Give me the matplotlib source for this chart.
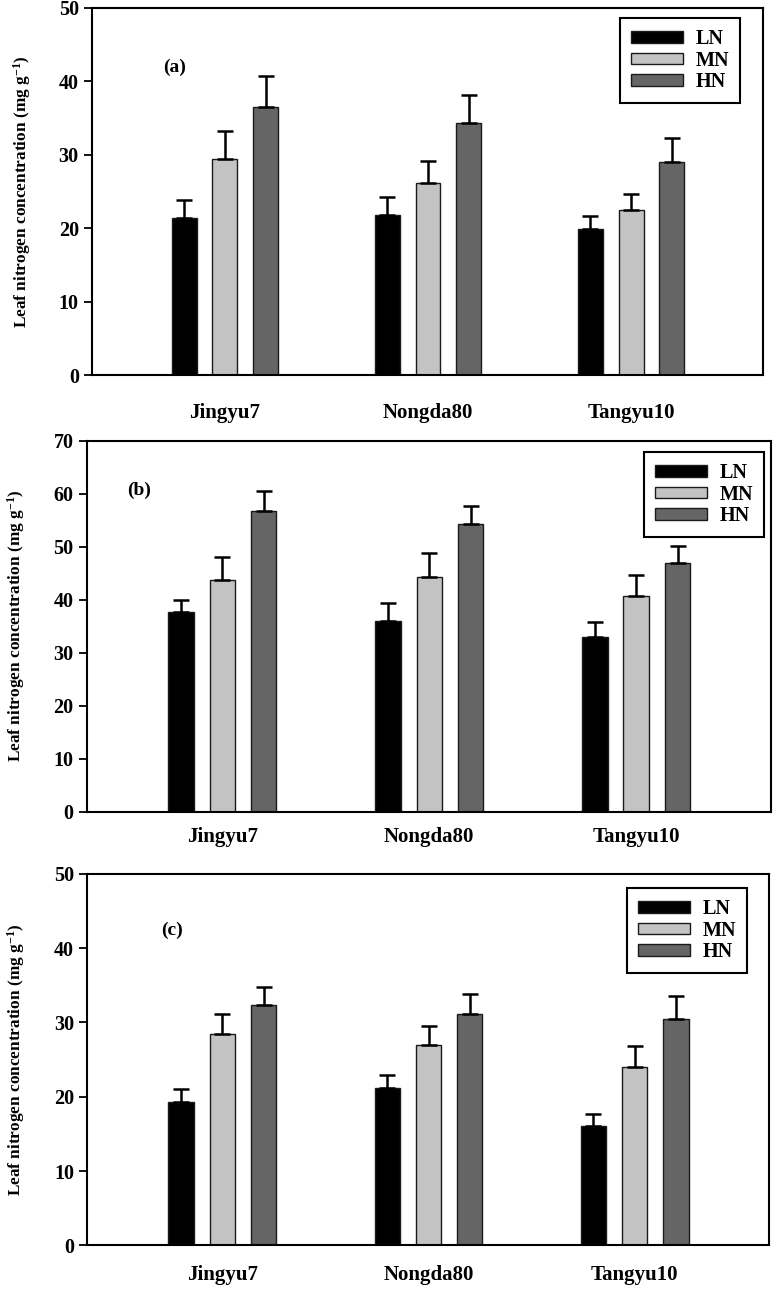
import numpy as np
import matplotlib
matplotlib.use("Agg")
import matplotlib.pyplot as plt

# Cultivars and nitrogen treatments
cultivars = ["Jingyu7", "Nongda80", "Tangyu10"]
treatments = ["LN", "MN", "HN"]
colors = ["#000000", "#c3c3c3", "#656565"]

# panel (a): means and upper error bars per treatment (LN, MN, HN)
a_ln = [21.4, 21.8, 19.9]
a_mn = [29.5, 26.2, 22.5]
a_hn = [36.5, 34.3, 29.0]
a_ln_err = [2.5, 2.4, 1.8]
a_mn_err = [3.7, 2.9, 2.2]
a_hn_err = [4.2, 3.8, 3.3]

# panel (b)
b_ln = [37.7, 35.9, 33.0]
b_mn = [43.8, 44.3, 40.7]
b_hn = [56.8, 54.2, 46.9]
b_ln_err = [2.2, 3.5, 2.8]
b_mn_err = [4.3, 4.5, 3.9]
b_hn_err = [3.7, 3.4, 3.3]

# panel (c)
c_ln = [19.3, 21.2, 16.1]
c_mn = [28.4, 27.0, 24.0]
c_hn = [32.3, 31.2, 30.5]
c_ln_err = [1.8, 1.7, 1.6]
c_mn_err = [2.8, 2.5, 2.8]
c_hn_err = [2.5, 2.7, 3.0]

plt.rcParams['font.family'] = ['Liberation Serif', 'DejaVu Serif']
plt.rcParams['font.weight'] = 'bold'
plt.rcParams['mathtext.default'] = 'regular'


def draw_panel(ax, means, errs, ymax, label, label_pos, legend_anchor, xpad):
    x = np.arange(len(cultivars))
    width = 0.123
    step = 0.2
    for i, (vals, err) in enumerate(zip(means, errs)):
        pos = x + (i - 1) * step
        ax.bar(pos, vals, width, color=colors[i], edgecolor="#1a1a1a",
               linewidth=1.0, label=treatments[i], zorder=2)
        ax.errorbar(pos, vals, yerr=[np.zeros(len(vals)), err], fmt="none",
                    ecolor="black", elinewidth=1.8, capsize=5.5, capthick=1.8,
                    zorder=3)
    ax.set_xlim(-0.655, 2.65)
    ax.set_ylim(0, ymax)
    ax.set_yticks(np.arange(0, ymax + 1, 10))
    ax.set_xticks(x)
    ax.set_xticklabels(cultivars, fontsize=15, fontweight='bold')
    ax.tick_params(axis='x', length=0, pad=xpad)
    ax.tick_params(axis='y', direction='out', length=6, width=1.3,
                   labelsize=14.5)
    for lab in ax.get_yticklabels():
        lab.set_fontweight('bold')
    for sp in ax.spines.values():
        sp.set_linewidth(1.5)
    ax.set_ylabel("Leaf nitrogen concentration (mg g$^{-1}$)",
                  fontsize=12.4, fontweight='bold')
    ax.yaxis.set_label_coords(-0.088, 0.5)
    ax.text(label_pos[0], label_pos[1], label, transform=ax.transAxes,
            fontsize=14, fontweight='bold', ha='left', va='center')
    leg = ax.legend(loc='upper right', bbox_to_anchor=legend_anchor,
                    borderaxespad=0, fancybox=False, edgecolor='black',
                    framealpha=1, prop={'size': 14.5, 'weight': 'bold'},
                    handlelength=2.6, handleheight=0.5, labelspacing=0.08,
                    borderpad=0.55, handletextpad=0.6)
    leg.get_frame().set_linewidth(1.5)


fig = plt.figure(figsize=(7.75, 12.89), dpi=100)
ax1 = fig.add_axes([0.1187, 0.709, 0.8658, 0.2848])
ax2 = fig.add_axes([0.1119, 0.3703, 0.8826, 0.2878])
ax3 = fig.add_axes([0.1126, 0.0339, 0.8793, 0.2881])

draw_panel(ax1, [a_ln, a_mn, a_hn], [a_ln_err, a_mn_err, a_hn_err], 50,
           "(a)", (0.106, 0.837), (0.966, 0.973), 20)
draw_panel(ax2, [b_ln, b_mn, b_hn], [b_ln_err, b_mn_err, b_hn_err], 70,
           "(b)", (0.059, 0.867), (0.990, 0.970), 11)
draw_panel(ax3, [c_ln, c_mn, c_hn], [c_ln_err, c_mn_err, c_hn_err], 50,
           "(c)", (0.108, 0.849), (0.968, 0.962), 14)

fig.savefig("out.png", dpi=100)
